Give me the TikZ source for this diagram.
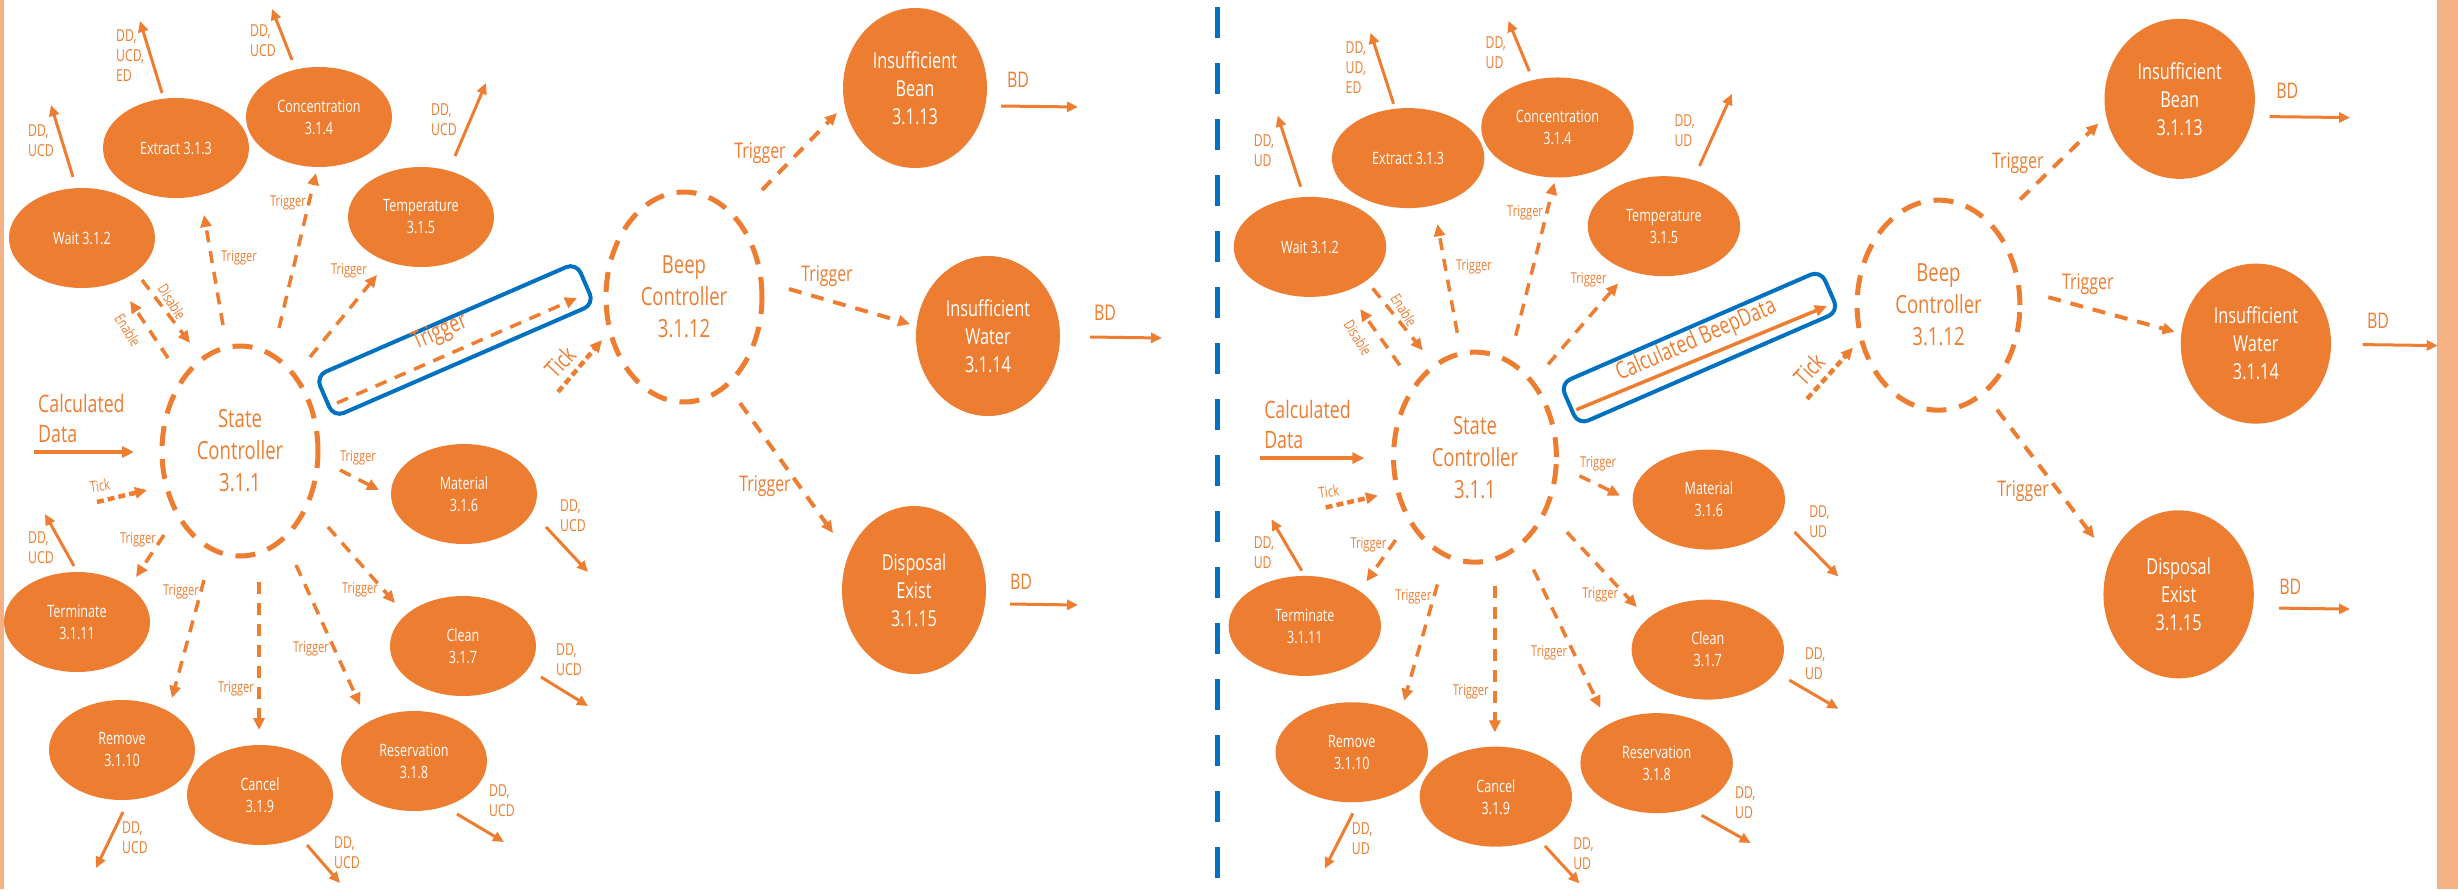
\documentclass[tikz,border=0pt]{standalone}
\usepackage{fontspec}
\setmainfont{Open Sans}[FakeStretch=0.74]
\usetikzlibrary{arrows.meta,shapes.geometric}
\definecolor{orng}{HTML}{ED7D31}
\definecolor{stripcol}{HTML}{F4B183}
\definecolor{bluebx}{HTML}{0070C0}
\def\sx{1}
\tikzset{
  proc/.style={ellipse, fill=orng, text=white, inner sep=0pt, minimum width={146pt*\sx}, minimum height=100pt, align=center, font=\fontsize{17}{22}\selectfont},
  bigproc/.style={ellipse, fill=orng, text=white, inner sep=0pt, minimum width={144pt*\sx}, align=center, font=\fontsize{22}{28}\selectfont},
  ctrl/.style={ellipse, draw=orng, line width=5pt, dash pattern=on 20pt off 13pt, text=orng, inner sep=0pt, minimum width={156pt*\sx}, minimum height=210pt, align=center, font=\fontsize{25}{32}\selectfont},
  boxstyle/.style={draw=bluebx, line width=4pt, rounded corners=11pt, minimum width=284pt, minimum height=45pt, inner sep=0pt},
  tipa/.style={-{Triangle[length=12pt,width=11pt]}},
  trig/.style={draw=orng, line width=3.5pt, dash pattern=on 12pt off 9pt, tipa},
  btrig/.style={draw=orng, line width=4pt, dash pattern=on 13pt off 10pt, tipa},
  tick/.style={draw=orng, line width=4.5pt, dash pattern=on 7pt off 4pt, tipa},
  flow/.style={draw=orng, line width=3.5pt, tipa},
  data/.style={draw=orng, line width=3pt, -{Triangle[length=11pt,width=10pt]}},
  lab/.style={text=orng, inner sep=0pt, font=\fontsize{15}{18}\selectfont},
  dlab/.style={text=orng, inner sep=0pt, align=left, anchor=west, font=\fontsize{16.5}{20}\selectfont},
  blab/.style={text=orng, inner sep=0pt, font=\fontsize{21.5}{26}\selectfont},
  boxlab/.style={text=orng, inner sep=0pt, font=\fontsize{24}{28}\selectfont},
  biglab/.style={text=orng, inner sep=0pt, align=left, anchor=west, font=\fontsize{24}{30}\selectfont},
}
\newcommand\Conn[4]{\coordinate (#1a) at (#2); \coordinate (#1b) at (#3); \draw[#4] (#1a) -- (#1b);}
% #1 data word, #2 label right arrow, #3 label left arrow, #4 box text, #5 box arrow style, #6 prefix, #7 box text x
\newcommand\DiagPanel[7]{%
\node[proc] (#6wait) at (82,238) {Wait 3.1.2};
\node[proc] (#6ext) at (176,148) {Extract 3.1.3};
\node[proc] (#6con) at (319,117) {Concentration\\3.1.4};
\node[proc] (#6tem) at (421,217) {Temperature\\3.1.5};
\node[proc] (#6mat) at (464,494) {Material\\3.1.6};
\node[proc] (#6cln) at (463,646) {Clean\\3.1.7};
\node[proc] (#6res) at (414,761) {Reservation\\3.1.8};
\node[proc] (#6can) at (260,795) {Cancel\\3.1.9};
\node[proc] (#6rem) at (122,750) {Remove\\3.1.10};
\node[proc] (#6ter) at (77,622) {Terminate\\3.1.11};
\node[ctrl] (#6sc) at (240,451) {State\\Controller\\3.1.1};
\node[ctrl] (#6bc) at (684,297) {Beep\\Controller\\3.1.12};
\node[bigproc, minimum height=160pt] (#6bean) at (915,88) {Insufficient\\Bean\\3.1.13};
\node[bigproc, minimum height=160pt] (#6wat) at (988,336) {Insufficient\\Water\\3.1.14};
\node[bigproc, minimum height=168pt] (#6dis) at (914,590) {Disposal\\Exist\\3.1.15};
\node[boxstyle, rotate=23.5] (#6box) at (455,340) {};
% data outputs
\Conn{#6o1}{73,177}{51,105}{data}
\Conn{#6o2}{162,93}{140,21}{data}
\Conn{#6o3}{292,60}{272,9}{data}
\Conn{#6o4}{455,156}{486,83}{data}
\Conn{#6o5}{546,527}{588,572}{data}
\Conn{#6o6}{541,677}{588,706}{data}
\Conn{#6o7}{457,814}{504,842}{data}
\Conn{#6o8}{307,845}{340,883}{data}
\Conn{#6o9}{123,812}{96,868}{data}
\Conn{#6o10}{74,566}{45,514}{data}
\node[dlab] (#6d1) at (28,141) {DD,\\#1};
\node[dlab] (#6d2) at (116,56) {DD,\\#1,\\ED};
\node[dlab] (#6d3) at (250,41) {DD,\\#1};
\node[dlab] (#6d4) at (431,120) {DD,\\#1};
\node[dlab] (#6d5) at (560,516) {DD,\\#1};
\node[dlab] (#6d6) at (556,660) {DD,\\#1};
\node[dlab] (#6d7) at (489,801) {DD,\\#1};
\node[dlab] (#6d8) at (334,853) {DD,\\#1};
\node[dlab] (#6d9) at (122,838) {DD,\\#1};
\node[dlab] (#6d10) at (28,548) {DD,\\#1};
% triggers from state controller
\Conn{#6t1}{142,280}{190,343}{trig}
\node[lab, rotate=-58] (#6l1) at (172,302) {#2};
\Conn{#6t2}{168,358}{130,301}{trig}
\node[lab, rotate=-58] (#6l2) at (128,330) {#3};
\Conn{#6t3}{223,325}{204,215}{trig}
\node[lab] (#6l3) at (239,258) {Trigger};
\Conn{#6t4}{279,328}{316,173}{trig}
\node[lab] (#6l4) at (288,203) {Trigger};
\Conn{#6t5}{310,357}{377,275}{trig}
\node[lab] (#6l5) at (349,271) {Trigger};
\Conn{#6t6}{340,470}{379,490}{trig}
\node[lab] (#6l6) at (358,458) {Trigger};
\Conn{#6t7}{328,527}{395,603}{trig}
\node[lab] (#6l7) at (360,590) {Trigger};
\Conn{#6t8}{296,565}{360,705}{trig}
\node[lab] (#6l8) at (311,649) {Trigger};
\Conn{#6t9}{259,582}{259,730}{trig}
\node[lab] (#6l9) at (236,689) {Trigger};
\Conn{#6t10}{204,580}{172,698}{trig}
\node[lab] (#6l10) at (181,592) {Trigger};
\Conn{#6t11}{164,535}{136,577}{trig}
\node[lab] (#6l11) at (138,540) {Trigger};
% inputs
\Conn{#6cd}{34,452}{134,452}{flow}
\node[biglab] (#6cdl) at (38,418) {Calculated\\Data};
\Conn{#6k1}{97,502}{147,490}{tick}
\node[lab, rotate=8] (#6kl1) at (100,486) {Tick};
% box flow to beep controller
\Conn{#6bx}{337,403}{577,298}{#5}
\node[boxlab, rotate=23.5] (#6bxl) at (#7,333) {#4};
\Conn{#6k2}{558,392}{602,340}{tick}
\node[boxlab, rotate=47] (#6kl2) at (560,362) {Tick};
% beep controller triggers
\Conn{#6b1}{762,190}{837,113}{btrig}
\node[blab] (#6bl1) at (760,153) {Trigger};
\Conn{#6b2}{789,289}{910,324}{btrig}
\node[blab] (#6bl2) at (827,276) {Trigger};
\Conn{#6b3}{740,403}{833,533}{btrig}
\node[blab] (#6bl3) at (765,486) {Trigger};
% BD outputs
\Conn{#6e1}{1001,106}{1078,107}{data}
\node[blab] (#6el1) at (1018,80) {BD};
\Conn{#6e2}{1090,337}{1162,338}{data}
\node[blab] (#6el2) at (1105,313) {BD};
\Conn{#6e3}{1010,604}{1078,605}{data}
\node[blab] (#6el3) at (1021,582) {BD};
}
\begin{document}
\begin{tikzpicture}[x=1pt,y=-1pt]
\useasboundingbox (0,0) rectangle (2458,889);
\fill[white] (0,0) rectangle (2458,889);
\fill[stripcol] (0,0) rectangle (4,889);
\fill[stripcol] (2437,0) rectangle (2458,889);
\draw[bluebx, line width=5pt, dash pattern=on 31pt off 25pt] (1217,7) -- (1217,889);
\begin{scope}
\DiagPanel{UCD}{Disable}{Enable}{Trigger}{trig}{L}{440}
\end{scope}
\def\sx{1.044}
\begin{scope}[shift={(1224.4,12)},xscale=1.044,yscale=0.987]
\DiagPanel{UD}{Enable}{Disable}{Calculated BeepData}{flow}{R}{452}
\end{scope}
\end{tikzpicture}
\end{document}
